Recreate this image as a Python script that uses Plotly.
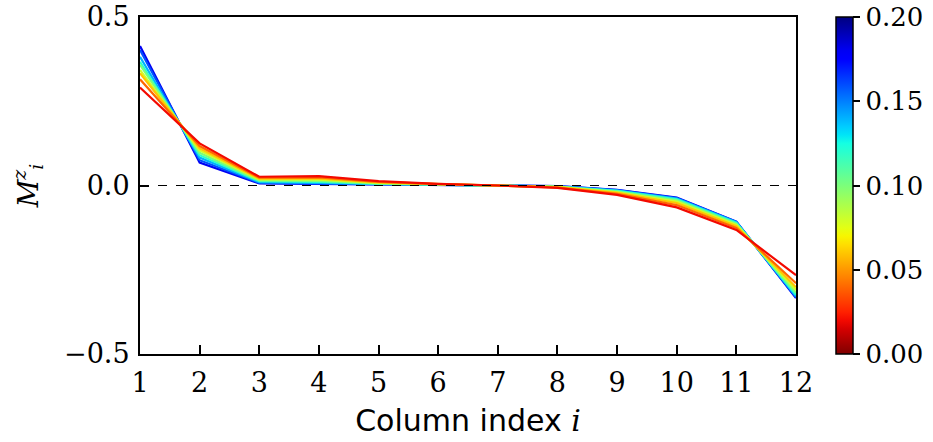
import numpy as np
import plotly.graph_objects as go

column_index = list(range(1, 13))
params = [0.02, 0.04, 0.06, 0.08, 0.10, 0.12, 0.14, 0.16, 0.18]

# M_i^z profiles, one list per parameter value
m_002 = [0.291, 0.125, 0.026, 0.028, 0.013, 0.005, 0.000, -0.007, -0.028, -0.065, -0.132, -0.266]
m_004 = [0.315, 0.117, 0.023, 0.024, 0.011, 0.004, 0.000, -0.006, -0.025, -0.058, -0.126, -0.290]
m_006 = [0.333, 0.110, 0.020, 0.020, 0.009, 0.004, 0.000, -0.005, -0.022, -0.052, -0.121, -0.302]
m_008 = [0.343, 0.104, 0.018, 0.017, 0.008, 0.003, 0.000, -0.004, -0.020, -0.048, -0.117, -0.310]
m_010 = [0.358, 0.097, 0.015, 0.014, 0.006, 0.003, 0.000, -0.004, -0.018, -0.044, -0.114, -0.318]
m_012 = [0.367, 0.090, 0.013, 0.011, 0.005, 0.002, 0.000, -0.003, -0.016, -0.041, -0.111, -0.324]
m_014 = [0.382, 0.083, 0.010, 0.008, 0.004, 0.002, 0.000, -0.003, -0.015, -0.039, -0.109, -0.329]
m_016 = [0.402, 0.075, 0.008, 0.006, 0.003, 0.001, 0.000, -0.002, -0.014, -0.037, -0.108, -0.332]
m_018 = [0.414, 0.068, 0.006, 0.004, 0.002, 0.001, 0.000, -0.002, -0.013, -0.036, -0.107, -0.334]
series = [m_002, m_004, m_006, m_008, m_010, m_012, m_014, m_016, m_018]

cb_tickvals = [0.00, 0.05, 0.10, 0.15, 0.20]
cb_ticktext = ["0.00", "0.05", "0.10", "0.15", "0.20"]
y_tickvals = [-0.5, 0.0, 0.5]
y_ticktext = ["\u22120.5", "0.0", "0.5"]

PMIN, PMAX = 0.0, 0.2


def jet(t):
    r = np.interp(t, [0, 0.35, 0.66, 0.89, 1], [0, 0, 1, 1, 0.5])
    g = np.interp(t, [0, 0.125, 0.375, 0.64, 0.91, 1], [0, 0, 1, 1, 0, 0])
    b = np.interp(t, [0, 0.11, 0.34, 0.65, 1], [0.5, 1, 1, 0, 0])
    return "rgb(%d,%d,%d)" % (round(r * 255), round(g * 255), round(b * 255))


def color_for(p):
    return jet(1 - (p - PMIN) / (PMAX - PMIN))


serif = "DejaVu Serif"
sans = "DejaVu Sans"
FS = 27

fig = go.Figure()
# draw high-parameter (blue) curves first so the red ones sit on top
for p, vals in reversed(list(zip(params, series))):
    fig.add_trace(go.Scatter(x=column_index, y=vals, mode="lines",
                             line=dict(color=color_for(p), width=2.2),
                             showlegend=False, hoverinfo="skip"))

stops = np.linspace(0, 1, 41)
colorscale = [[s, color_for(PMIN + s * (PMAX - PMIN))] for s in stops]
fig.add_trace(go.Scatter(
    x=[None], y=[None], mode="markers", showlegend=False,
    marker=dict(color=[PMIN, PMAX], cmin=PMIN, cmax=PMAX, colorscale=colorscale,
                showscale=True,
                colorbar=dict(thickness=17, len=1, lenmode="fraction", y=0.5, yanchor="middle",
                              x=836 / 933, xref="container", xanchor="left", xpad=0, ypad=0,
                              outlinecolor="black", outlinewidth=1.5,
                              tickvals=cb_tickvals, ticktext=cb_ticktext,
                              ticks="outside", ticklen=7, tickwidth=2, tickcolor="black",
                              tickfont=dict(family=serif, size=FS - 1, color="black"))),
))

fig.add_hline(y=0, line=dict(color="black", width=1, dash="dash"))

fig.update_layout(
    width=933, height=442,
    margin=dict(l=140, r=137, t=17, b=88, autoexpand=False),
    plot_bgcolor="white", paper_bgcolor="white",
    xaxis=dict(range=[1, 12], tickvals=column_index, ticks="inside", ticklen=9, tickwidth=2,
               tickcolor="black", showline=True, linecolor="black", linewidth=2, mirror=True,
               showgrid=False, zeroline=False, ticklabelstandoff=4,
               tickfont=dict(family=serif, size=FS, color="black"),
               title=dict(text='Column index <span style="font-family:DejaVu Serif"><i>i</i></span>',
                          font=dict(family=sans, size=30, color="black"), standoff=13)),
    yaxis=dict(range=[-0.5, 0.5], tickvals=y_tickvals, ticktext=y_ticktext, ticks="inside",
               ticklen=9, tickwidth=2, tickcolor="black", showline=True, linecolor="black",
               linewidth=2, mirror=True, showgrid=False, zeroline=False, ticklabelstandoff=3,
               tickfont=dict(family=serif, size=FS, color="black"),
               title=dict(text="<i>M</i><sup><i>z</i></sup><sub><i>i</i></sub>",
                          font=dict(family=serif, size=FS, color="black"), standoff=18)),
)

fig.write_html("out.html")
